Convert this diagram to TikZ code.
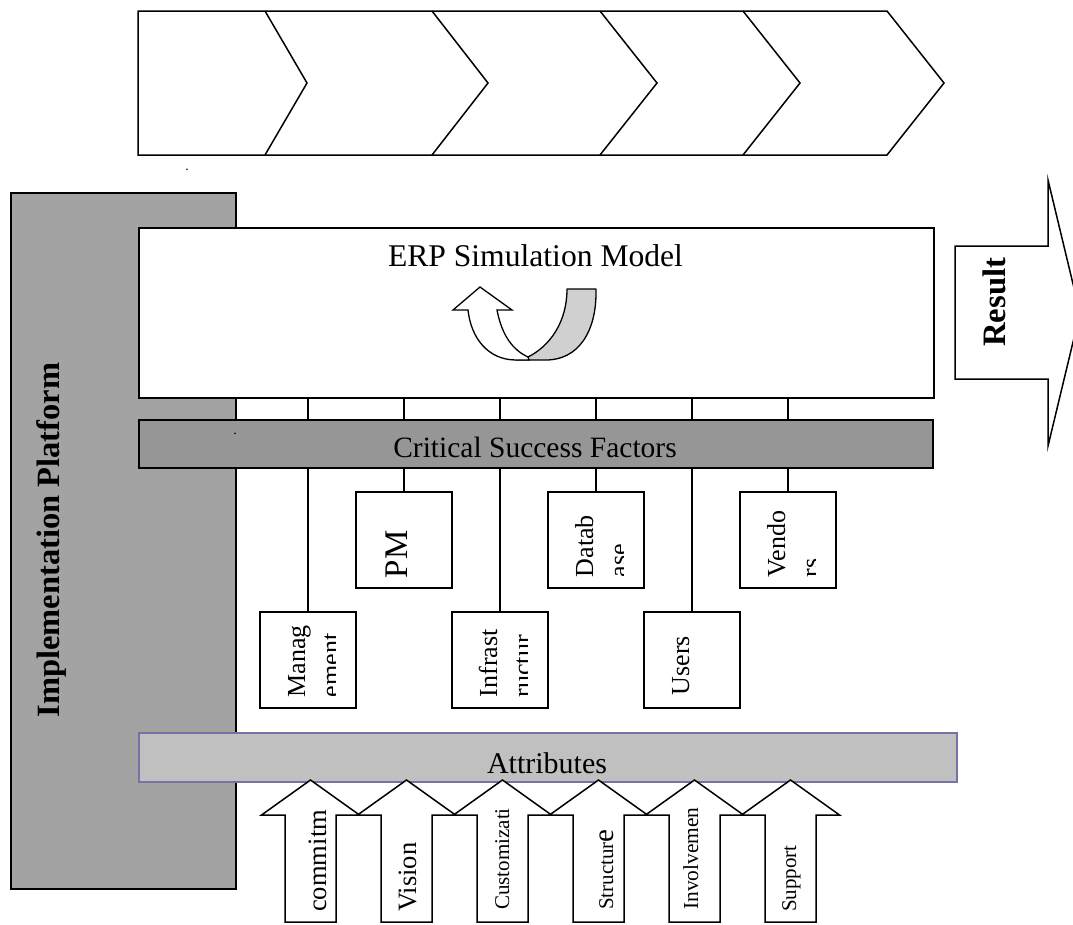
\documentclass[tikz,border=0pt]{standalone}
\usepackage{fontspec}
\setmainfont{Liberation Serif}
\usetikzlibrary{calc}
\definecolor{platgray}{HTML}{A3A3A3}
\definecolor{csfgray}{HTML}{969696}
\definecolor{attrgray}{HTML}{C0C0C0}
\definecolor{attrborder}{HTML}{7373A6}
\definecolor{ugray}{HTML}{D0D0D0}
\newcommand{\csfbox}[3]{%
  \begin{scope}
    \clip (#1.south west) rectangle ($(#1.north east)+(-21,0)$);
    \node[vtext, fs=26] (#1a) at ($(#1.south west)+(46,-11)$) {#2};
    \node[vtext, fs=26] (#1b) at ($(#1.south west)+(80,-11)$) {#3};
  \end{scope}}
\begin{document}
\begin{tikzpicture}[x=1pt,y=-1pt,
  lw/.style={line width=1.5pt},
  fs/.style={font=\fontsize{#1}{#1}\selectfont},
  fsb/.style={font=\fontsize{#1}{#1}\selectfont\bfseries},
  vtext/.style={rotate=90, anchor=base west, inner sep=0pt},
  htext/.style={anchor=base, inner sep=0pt},
  bar/.style={draw, line width=1.5pt, inner sep=0pt, anchor=north west},
  boxshape/.style={draw, fill=white, line width=1.5pt, inner sep=0pt,
    minimum width=96pt, minimum height=96pt, anchor=north west},
  uparrow/.style={draw, fill=white, line width=1.5pt, line join=miter},
]
\useasboundingbox (0,0) rectangle (1073,924);

% top chevron band
\draw[lw, line join=miter] (138,11) -- (887,11) -- (944,83) -- (887,155) -- (138,155) -- cycle;
\foreach \b/\t in {265/307, 432/488, 600/657, 743/800}
  \draw[lw, line join=miter] (\b,11) -- (\t,83) -- (\b,155);
\node[htext, fs=14] (dotA) at (187,170) {.};

% implementation platform
\node[bar, fill=platgray, minimum width=225pt, minimum height=696pt] (platform) at (10,192) {};
\node[rotate=90, anchor=base, inner sep=0pt, fsb=32.5] (plattext) at (59,540) {Implementation Platform};

% ERP simulation model
\node[bar, fill=white, minimum width=795pt, minimum height=170pt] (erp) at (138,227) {};
\node[htext, fs=31.6] (erptext) at (535.5,266) {ERP Simulation Model};

% U-turn arrow
\draw[line width=1.3pt, fill=ugray, line join=round]
  (567,289) -- (596,289) .. controls (597,332) and (578,360) .. (546,360)
  -- (516,360) -- (528,357) .. controls (550,346) and (567,322) .. (567,289) -- cycle;
\draw[line width=1.3pt, fill=white, line join=miter]
  (453,310) -- (480,287) -- (512,310) -- (497,310)
  .. controls (502,336) and (513,350) .. (528,357) -- (529,360)
  -- (516,360) .. controls (488,360) and (471,338) .. (468,310) -- cycle;

% critical success factors
\node[bar, fill=csfgray, minimum width=794pt, minimum height=48pt] (csf) at (138,419) {};
\node[htext, fs=14] (dotB) at (235,434) {.};
\node[htext, fs=29.5] (csftext) at (535,457) {Critical Success Factors};

\node[boxshape] (mgmt) at (259,611) {};
\node[boxshape] (pm) at (355,491) {};
\node[boxshape] (infra) at (451,611) {};
\node[boxshape] (db) at (547,491) {};
\node[boxshape] (users) at (643,611) {};
\node[boxshape] (vend) at (739,491) {};

\foreach \n in {mgmt,pm,infra,db,users,vend}{
  \draw[lw] (\n.north) -- (csf.south -| \n.north);
  \draw[lw] (csf.north -| \n.north) -- (erp.south -| \n.north);
}

\csfbox{mgmt}{Manag}{ement}
\csfbox{infra}{Infrast}{ructur}
\csfbox{db}{Datab}{ase}
\csfbox{vend}{Vendo}{rs}
\node[vtext, fs=26] (userst) at ($(users.south west)+(46,-13)$) {Users};
\node[vtext, fs=33] (pmt) at ($(pm.south west)+(52,-10)$) {PM};

% attributes
\node[bar, draw=attrborder, fill=attrgray, minimum width=818pt, minimum height=49pt] (attr) at (138,732) {};
\node[htext, fs=30] (attrtext) at (547,773) {Attributes};

\foreach \c in {310.5,406.5,502.5,598.5,694.5,790.5}
  \draw[uparrow] ({\c-25.5},922) -- ({\c-25.5},815) -- ({\c-49},815) -- (\c,780)
    -- ({\c+49},815) -- ({\c+25.5},815) -- ({\c+25.5},922) -- cycle;

\node[vtext, fs=26.6] (t1) at (326,912) {commitm};
\node[vtext, fs=26.5] (t2) at (416,912) {Vision};
\node[vtext, fs=21] (t3) at (509,910) {Customizati};
\node[vtext, fs=21] (t4) at (613,910) {Structur{\fontsize{29}{29}\selectfont e}};
\node[vtext, fs=21.4] (t5) at (698,910) {Involvemen};
\node[vtext, fs=21] (t6) at (796,912) {Support};

% result arrow
\draw[uparrow] (955,246) -- (1048,246) -- (1048,180) -- (1080,313) -- (1048,446)
  -- (1048,379) -- (955,379) -- cycle;
\node[vtext, fsb=32.7] (result) at (1005,347) {Result};
\end{tikzpicture}
\end{document}
